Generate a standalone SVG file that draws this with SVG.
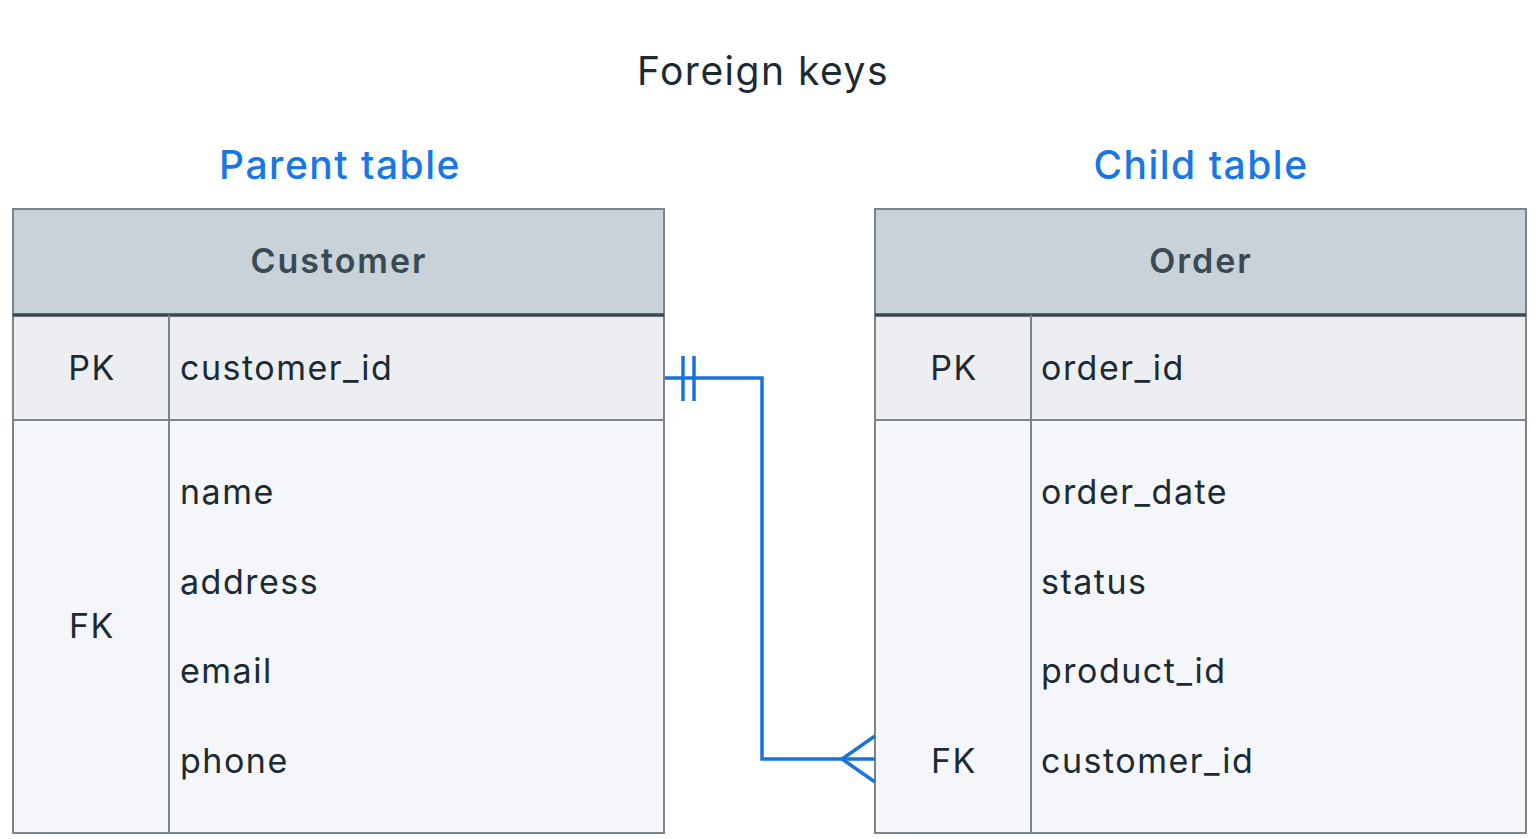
<svg xmlns="http://www.w3.org/2000/svg" width="1540" height="839" viewBox="0 0 1540 839">
  <style>
    text { font-family: Inter, "Noto Sans", "Liberation Sans", sans-serif; }
    .title { font-size: 39px; fill: #1c2b33; text-anchor: middle; letter-spacing: 1.5px; }
    .label { font-size: 39px; fill: #1877e6; text-anchor: middle; font-weight: 500; letter-spacing: 1.5px; }
    .head { font-size: 34px; fill: #3a4a55; text-anchor: middle; font-weight: 600; letter-spacing: 2px; }
    .key { font-size: 34px; fill: #1c2b33; text-anchor: middle; letter-spacing: 1.5px; }
    .field { font-size: 34px; fill: #1c2b33; letter-spacing: 1.5px; }
    .hdr { fill: #c9d1d9; stroke: #7d858c; stroke-width: 2; }
    .pk { fill: #eceef2; stroke: #7d858c; stroke-width: 2; }
    .body { fill: #f5f6f9; stroke: #7d858c; stroke-width: 2; }
    .sep { stroke: #3a4a55; stroke-width: 3.5; }
    .col { stroke: #7d858c; stroke-width: 2; }
    .link { fill: none; stroke: #1a72dd; stroke-width: 3.5; stroke-linejoin: miter; }
  </style>
  <rect width="1540" height="839" fill="#ffffff"/>

  <text class="title" x="763" y="85">Foreign keys</text>
  <text class="label" x="340" y="179">Parent table</text>
  <text class="label" x="1201" y="179">Child table</text>

  <!-- Customer table -->
  <g id="customer">
    <rect class="hdr" x="13" y="209" width="651" height="106"/>
    <rect class="pk" x="13" y="315" width="651" height="105"/>
    <rect class="body" x="13" y="420" width="651" height="413"/>
    <line class="sep" x1="13" y1="315" x2="664" y2="315"/>
    <line class="col" x1="169" y1="315" x2="169" y2="833"/>
    <text class="head" x="339" y="273">Customer</text>
    <text class="key" x="92" y="380">PK</text>
    <text class="field" x="180" y="380">customer_id</text>
    <text class="key" x="92" y="638">FK</text>
    <text class="field" x="180" y="504">name</text>
    <text class="field" x="180" y="594">address</text>
    <text class="field" x="180" y="683">email</text>
    <text class="field" x="180" y="773">phone</text>
  </g>

  <!-- Order table -->
  <g id="order">
    <rect class="hdr" x="875" y="209" width="651" height="106"/>
    <rect class="pk" x="875" y="315" width="651" height="105"/>
    <rect class="body" x="875" y="420" width="651" height="413"/>
    <line class="sep" x1="875" y1="315" x2="1526" y2="315"/>
    <line class="col" x1="1031" y1="315" x2="1031" y2="833"/>
    <text class="head" x="1201" y="273">Order</text>
    <text class="key" x="954" y="380">PK</text>
    <text class="field" x="1041" y="380">order_id</text>
    <text class="field" x="1041" y="504">order_date</text>
    <text class="field" x="1041" y="594">status</text>
    <text class="field" x="1041" y="683">product_id</text>
    <text class="key" x="954" y="773">FK</text>
    <text class="field" x="1041" y="773">customer_id</text>
  </g>

  <!-- one-to-many relationship -->
  <g id="connectors">
    <polyline class="link" points="665,378 762,378 762,759 875,759"/>
    <line class="link" x1="683" y1="356" x2="683" y2="401"/>
    <line class="link" x1="694" y1="356" x2="694" y2="401"/>
    <polyline class="link" points="875,736 842,759 875,782"/>
  </g>
</svg>
